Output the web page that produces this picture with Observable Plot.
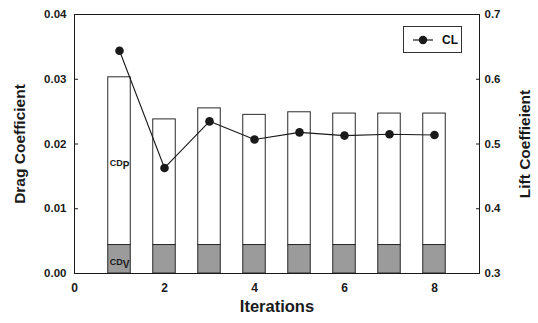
<!DOCTYPE html>
<html><head><meta charset="utf-8">
<script src="https://cdn.jsdelivr.net/npm/d3@7"></script>
<script src="https://cdn.jsdelivr.net/npm/@observablehq/plot@0.6"></script>
<style>
body{margin:0;background:#fff}
#chart{position:relative;width:538px;height:323px;font-family:"Liberation Sans",Arial,sans-serif}
#legend{position:absolute;left:403px;top:26px;width:59px;height:27px;border:1px solid #333;background:#fff;box-sizing:border-box;display:flex;align-items:center;font-weight:bold;font-size:12px;color:#111}
</style>
</head><body><div id="chart"></div>
<script>
const iterations = [1, 2, 3, 4, 5, 6, 7, 8];
const cdTotal = [0.0303, 0.0238, 0.0255, 0.0245, 0.0249, 0.0247, 0.0247, 0.0247];
const cdViscous = [0.0044, 0.0044, 0.0044, 0.0044, 0.0044, 0.0044, 0.0044, 0.0044];
const cl = [0.644, 0.463, 0.535, 0.507, 0.518, 0.513, 0.515, 0.514];
const xTicks = [0, 2, 4, 6, 8];
const cdTicks = [0, 0.01, 0.02, 0.03, 0.04];
const clTicks = [0.3, 0.4, 0.5, 0.6, 0.7];
const xDomain = [0, 9];
const cdDomain = [0, 0.04];
const clDomain = [0.3, 0.7];
const barWidth = 0.5;
const componentLabels = [
  {it: 1, base: "CD", sub: "P", y: 0.0171},
  {it: 1, base: "CD", sub: "V", y: 0.0017}
];

// map CL onto the drag axis
const clToCd = v => cdDomain[0] + (v - clDomain[0]) / (clDomain[1] - clDomain[0]) * (cdDomain[1] - cdDomain[0]);
const rows = iterations.map((it, i) => ({it, total: cdTotal[i], cdv: cdViscous[i], cl: cl[i], clm: clToCd(cl[i])}));

const ink = "#1a1a1a";
const plot = Plot.plot({
  width: 538, height: 323,
  marginLeft: 74, marginRight: 59, marginTop: 14, marginBottom: 50,
  style: {fontFamily: '"Liberation Sans", Arial, sans-serif', fontWeight: "bold", fontSize: "11.5px", color: ink, background: "white"},
  x: {domain: xDomain},
  y: {domain: cdDomain},
  marks: [
    Plot.rect(rows, {x1: d => d.it - barWidth / 2, x2: d => d.it + barWidth / 2, y1: 0, y2: "cdv", fill: "#9b9b9b", stroke: "#2a2a2a", strokeWidth: 1}),
    Plot.rect(rows, {x1: d => d.it - barWidth / 2, x2: d => d.it + barWidth / 2, y1: "cdv", y2: "total", fill: "white", stroke: "#2a2a2a", strokeWidth: 1}),
    Plot.line(rows, {x: "it", y: "clm", stroke: ink, strokeWidth: 1.1}),
    Plot.dot(rows, {x: "it", y: "clm", r: 4.3, fill: ink, stroke: "none"}),
    Plot.text(componentLabels, {x: "it", y: "y", text: d => d.base + "|" + d.sub, fontSize: 9, fontWeight: "bold", fill: ink, className: "sublabel"}),
    Plot.frame({stroke: ink, strokeWidth: 1}),
    Plot.axisX({ticks: xTicks, tickSize: 0, tickPadding: 10, tickFormat: d => d, label: null, fontSize: 12}),
    Plot.axisY({anchor: "left", ticks: cdTicks, tickSize: -4, tickPadding: 12, tickFormat: d => d.toFixed(2), label: null}),
    Plot.axisY({anchor: "right", ticks: cdTicks, tickSize: -4, tickPadding: 9,
      tickFormat: (d, i) => clTicks[i].toFixed(1), label: null}),
    Plot.text(["Drag Coefficient"], {frameAnchor: "left", textAnchor: "middle", dx: -54, rotate: -90, fontSize: 15.5, fontWeight: "bold", fill: ink}),
    Plot.text(["Lift Coeffieient"], {frameAnchor: "right", textAnchor: "middle", dx: 46, rotate: -90, fontSize: 15.5, fontWeight: "bold", fill: ink}),
    Plot.text(["Iterations"], {frameAnchor: "bottom", dy: 38, fontSize: 16.5, fontWeight: "bold", fill: ink})
  ]
});

// subscripts for CD_P and CD_V
d3.select(plot).selectAll("g.sublabel text").each(function() {
  const t = d3.select(this);
  const [base, sub] = t.text().split("|");
  t.text(null);
  t.append("tspan").text(base);
  t.append("tspan").attr("dy", 3).attr("font-size", 10).text(sub);
});

const chart = document.getElementById("chart");
chart.appendChild(plot);
const legend = document.createElement("div");
legend.id = "legend";
legend.innerHTML = '<svg width="26" height="10" style="margin-left:8px"><line x1="1" x2="21" y1="5" y2="5" stroke="#1a1a1a" stroke-width="1.2"/><circle cx="11" cy="5" r="4.2" fill="#1a1a1a"/></svg><span style="margin-left:4px">CL</span>';
chart.appendChild(legend);
</script>
</body></html>
